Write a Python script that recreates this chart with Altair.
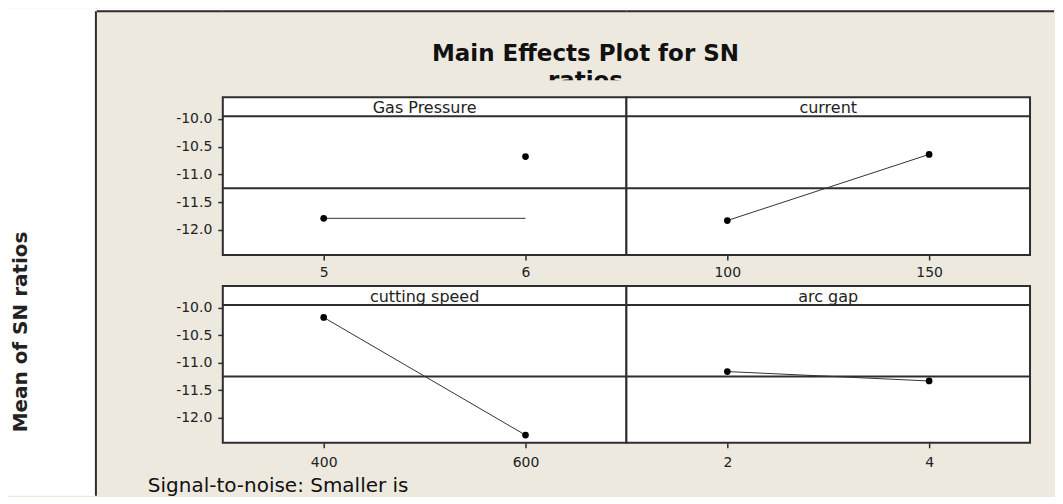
import altair as alt
import pandas as pd

# ---- data ----
factors = ["Gas Pressure", "current", "cutting speed", "arc gap"]
levels = [["5", "6"], ["100", "150"], ["400", "600"], ["2", "4"]]
point_means = [[-11.79, -10.68], [-11.83, -10.64], [-10.18, -12.31], [-11.16, -11.33]]
# connecting line as drawn in the reference (Gas Pressure line is drawn flat)
line_means = [[-11.79, -11.79], [-11.83, -10.64], [-10.18, -12.31], [-11.16, -11.33]]
overall_mean = [-11.25]
y_ticks = [-10.0, -10.5, -11.0, -11.5, -12.0]

title_lines = ["Main Effects Plot for SN", "ratios"]
y_title = "Mean of SN ratios"
footer_text = "Signal-to-noise: Smaller is"

FONT = "DejaVu Sans"
DARK = "#2e2e2e"
BEIGE = "#ede9df"
Y_DOMAIN = [-12.45, -9.61]

# grid layout: column widths and row heights (pixels)
W = [89, 126, 404, 428]
H = [72, 17, 158, 31, 157, 53]


def one():
    return pd.DataFrame({"t": [0]})


def cell(w, h, fill=None, extra=()):
    base = alt.Chart(one()).mark_rect(opacity=0).encode(
        x=alt.value(0), x2=alt.value(w), y=alt.value(0), y2=alt.value(h))
    return alt.layer(base, *extra).properties(
        width=w, height=h, view=alt.ViewBackground(fill=fill, stroke=None))


def top_cell(w, extra=()):
    white = alt.Chart(one()).mark_rect(color="white").encode(
        x=alt.value(0), x2=alt.value(w), y=alt.value(0), y2=alt.value(2))
    rule = alt.Chart(one()).mark_rule(color=DARK, strokeWidth=2).encode(
        x=alt.value(0), x2=alt.value(w), y=alt.value(3))
    return cell(w, H[0], None, [white, rule, *extra])


def panel(i, show_y, height, label_pad):
    df_pts = pd.DataFrame({"level": levels[i], "mean": point_means[i]})
    df_line = pd.DataFrame({"level": levels[i], "mean": line_means[i]})
    df_ref = pd.DataFrame({"mean": overall_mean})
    df_lab = pd.DataFrame({"factor": [factors[i]]})
    pw = W[2]

    xenc = alt.X(
        "level:O",
        scale=alt.Scale(type="point", domain=levels[i], padding=0.5),
        sort=levels[i],
        axis=alt.Axis(title=None, labelAngle=0, domain=False, grid=False,
                      tickSize=5, labelPadding=label_pad),
    )
    if show_y:
        yaxis = alt.Axis(
            title=None, values=y_ticks, domain=False, grid=False, tickSize=5,
            labelPadding=6,
            labelExpr="datum.value < 0 ? '-' + format(-datum.value, '.1f') : format(datum.value, '.1f')",
        )
    else:
        yaxis = None
    yscale = alt.Scale(domain=Y_DOMAIN, nice=False, zero=False)

    ref = alt.Chart(df_ref).mark_rule(color=DARK, strokeWidth=2).encode(
        y=alt.Y("mean:Q", scale=yscale, axis=yaxis))
    strip_line = alt.Chart(df_lab).mark_rule(color=DARK, strokeWidth=2).encode(
        y=alt.value(19))
    strip_text = alt.Chart(df_lab).mark_text(
        font=FONT, fontSize=16, color="#222", baseline="alphabetic", align="center"
    ).encode(text="factor:N", x=alt.value(pw / 2), y=alt.value(16))
    line = alt.Chart(df_line).mark_line(color="#333", strokeWidth=1).encode(
        x=xenc, y=alt.Y("mean:Q", scale=yscale, axis=yaxis))
    pts = alt.Chart(df_pts).mark_circle(color="black", size=45, opacity=1).encode(
        x=xenc, y=alt.Y("mean:Q", scale=yscale, axis=yaxis))

    return alt.layer(ref, line, pts, strip_line, strip_text).properties(
        width=pw, height=height,
        view=alt.ViewBackground(fill="white", stroke=DARK, strokeWidth=2),
    )


# title (placed in the cell above the left panels, overflowing to the right)
t1 = alt.Chart(pd.DataFrame({"t": [title_lines[0]]})).mark_text(
    font=FONT, fontSize=23, fontWeight="bold", color="#111", align="center",
    baseline="alphabetic",
).encode(text="t:N", x=alt.value(363), y=alt.value(53))
t2 = alt.Chart(pd.DataFrame({"t": [title_lines[1]]})).mark_text(
    font=FONT, fontSize=23, fontWeight="bold", color="#111", align="center",
    baseline="alphabetic",
).encode(text="t:N", x=alt.value(363), y=alt.value(80))

foot = alt.Chart(pd.DataFrame({"t": [footer_text]})).mark_text(
    font=FONT, fontSize=20, color="#111", align="left", baseline="alphabetic",
).encode(text="t:N", x=alt.value(51), y=alt.value(49))

# white left strip, its border and the rotated y title, drawn once from the last row
row_top = sum(H[:5])
white_col = alt.Chart(one()).mark_rect(color="white").encode(
    x=alt.value(0), x2=alt.value(W[0] - 1), y=alt.value(-row_top), y2=alt.value(H[5]))
left_rule = alt.Chart(one()).mark_rule(color=DARK, strokeWidth=2).encode(
    x=alt.value(W[0] - 1), y=alt.value(3 - row_top), y2=alt.value(H[5]))
ytitle = alt.Chart(pd.DataFrame({"t": [y_title]})).mark_text(
    font=FONT, fontSize=20, fontWeight="bold", color="#222", angle=270,
    align="center", baseline="middle",
).encode(text="t:N", x=alt.value(13), y=alt.value(324 - row_top))

cells = [
    # row 0: title
    cell(W[0], H[0]), top_cell(W[1]), top_cell(W[2], [t1, t2]), top_cell(W[3]),
    # row 1: gap (beige cell hides the lower part of the second title line)
    cell(W[0], H[1]), cell(W[1], H[1]), cell(W[2], H[1], BEIGE), cell(W[3], H[1]),
    # row 2: first panel row
    cell(W[0], H[2]), cell(W[1], H[2]), panel(0, True, H[2], 6), panel(1, False, H[2], 6),
    # row 3: gap for x-axis labels
    cell(W[0], H[3]), cell(W[1], H[3]), cell(W[2], H[3]), cell(W[3], H[3]),
    # row 4: second panel row
    cell(W[0], H[4]), cell(W[1], H[4]), panel(2, True, H[4], 8), panel(3, False, H[4], 8),
    # row 5: footer
    cell(W[0], H[5], None, [white_col, left_rule, ytitle]),
    cell(W[1], H[5], None, [foot]), cell(W[2], H[5]), cell(W[3], H[5]),
]

chart = alt.concat(*cells, columns=4, spacing=0, bounds="flush", align="each").properties(
    padding=0, background=BEIGE
).configure_axis(
    labelFont=FONT, labelFontSize=14, labelColor="#222",
    tickColor=DARK, tickWidth=1.5,
)

chart.save("out.html", embed_options={"renderer": "svg", "actions": False})
